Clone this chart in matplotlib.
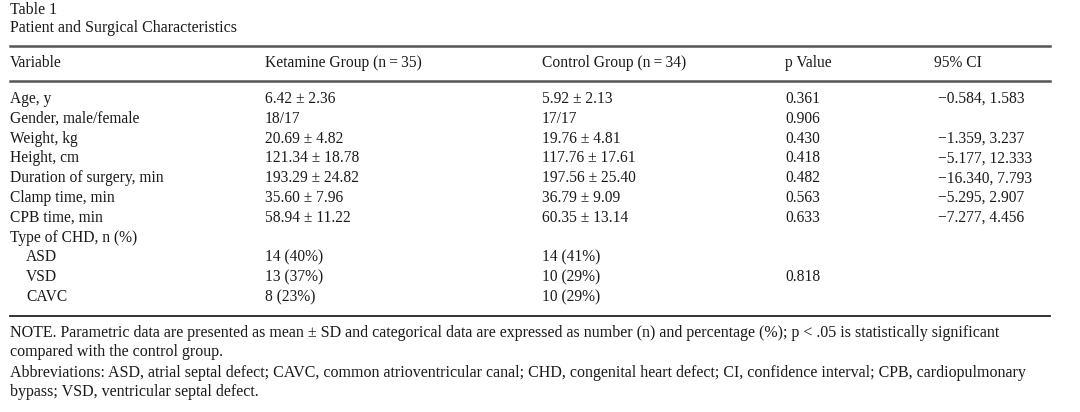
import matplotlib
matplotlib.use("Agg")
import matplotlib.pyplot as plt
from matplotlib.lines import Line2D

plt.rcParams['font.family'] = ['Liberation Serif', 'DejaVu Serif']

W, H = 1080, 412

title_lines = ["Table 1", "Patient and Surgical Characteristics"]
headers = ["Variable", "Ketamine Group (n\u2009=\u200935)", "Control Group (n\u2009=\u200934)", "p Value", "95% CI"]
variables = ["Age, y", "Gender, male/female", "Weight, kg", "Height, cm",
             "Duration of surgery, min", "Clamp time, min", "CPB time, min",
             "Type of CHD, n (%)", "ASD", "VSD", "CAVC"]
indent = [False] * 8 + [True, True, True]
ketamine = ["6.42 \u00b1 2.36", "18/17", "20.69 \u00b1 4.82", "121.34 \u00b1 18.78",
            "193.29 \u00b1 24.82", "35.60 \u00b1 7.96", "58.94 \u00b1 11.22", "",
            "14 (40%)", "13 (37%)", "8 (23%)"]
control = ["5.92 \u00b1 2.13", "17/17", "19.76 \u00b1 4.81", "117.76 \u00b1 17.61",
           "197.56 \u00b1 25.40", "36.79 \u00b1 9.09", "60.35 \u00b1 13.14", "",
           "14 (41%)", "10 (29%)", "10 (29%)"]
p_values = ["0.361", "0.906", "0.430", "0.418", "0.482", "0.563", "0.633", "", "", "0.818", ""]
ci = ["\u22120.584, 1.583", "", "\u22121.359, 3.237", "\u22125.177, 12.333",
      "\u221216.340, 7.793", "\u22125.295, 2.907", "\u22127.277, 4.456", "", "", "", ""]
footnotes = [
    "NOTE. Parametric data are presented as mean \u00b1 SD and categorical data are expressed as number (n) and percentage (%); p < .05 is statistically significant",
    "compared with the control group.",
    "Abbreviations: ASD, atrial septal defect; CAVC, common atrioventricular canal; CHD, congenital heart defect; CI, confidence interval; CPB, cardiopulmonary",
    "bypass; VSD, ventricular septal defect.",
]

fig = plt.figure(figsize=(W / 100, H / 100), dpi=100)
fig.patch.set_facecolor("white")

TXT = "#1a1a1a"
FS = 11.2


def fx(x):
    return x / W


def fy(y):
    return 1 - y / H


def put(x, y, s, fs=FS, **kw):
    fig.text(fx(x), fy(y), s, fontsize=fs, color=TXT, ha="left", va="center", **kw)


def hline(y, lw, color):
    fig.add_artist(Line2D([fx(10), fx(1050)], [fy(y), fy(y)], lw=lw, color=color,
                          transform=fig.transFigure))


# title
put(10, 10, title_lines[0], fs=11.5)
put(10, 28, title_lines[1], fs=11.5)

# rules
hline(46, 1.8, "#555555")
hline(80.5, 1.8, "#555555")
hline(316, 1.3, "#222222")

col_x = [10, 265, 542, 785, 934]
for x, h in zip(col_x, headers):
    put(x, 63, h)

row_y0, row_dy = 99, 19.8
for i in range(len(variables)):
    y = row_y0 + i * row_dy
    put(26 if indent[i] else 10, y, variables[i])
    put(col_x[1], y, ketamine[i])
    put(col_x[2], y, control[i])
    put(col_x[3], y, p_values[i])
    put(938, y, ci[i])

foot_y = [333, 352, 373, 392]
for y, s in zip(foot_y, footnotes):
    put(10, y, s, fs=11.5)

fig.savefig("out.png", dpi=100, facecolor="white")
